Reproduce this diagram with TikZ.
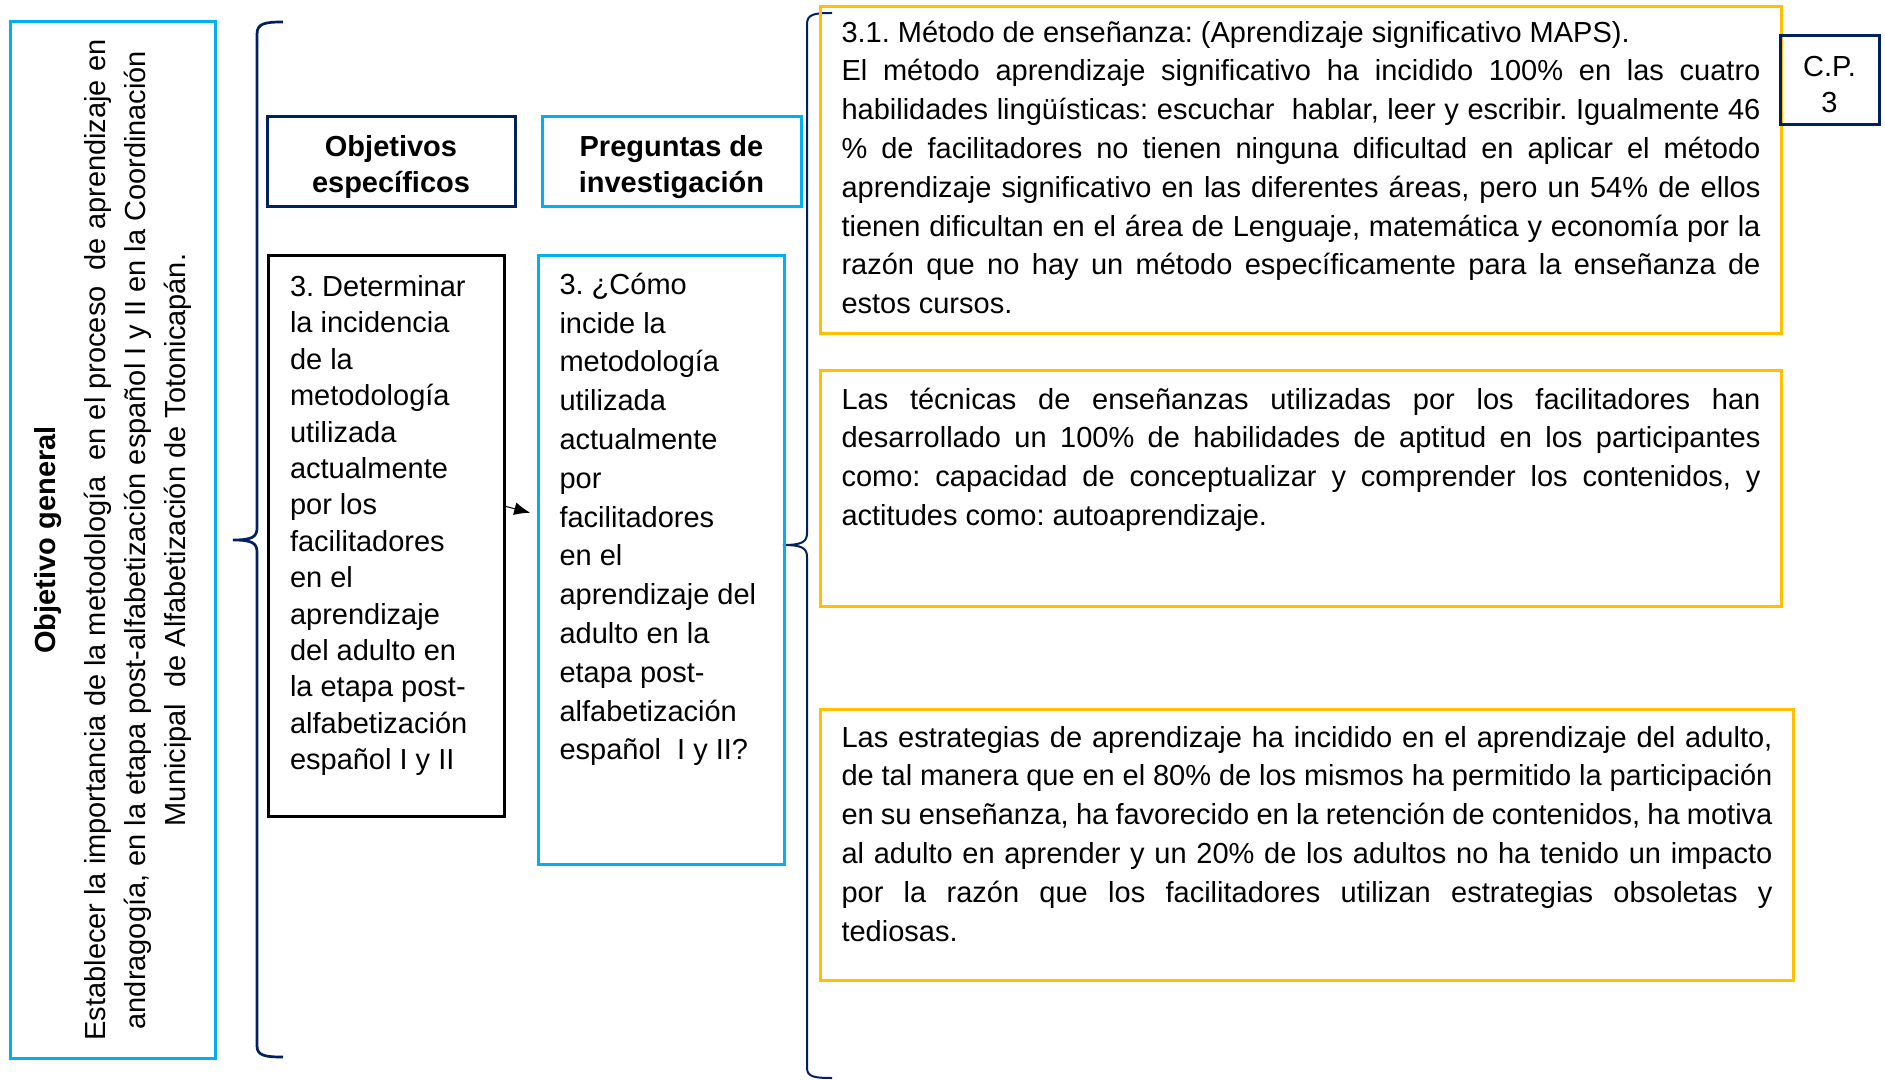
\documentclass[tikz,border=0pt]{standalone}
\usepackage{fontspec}
\setmainfont{Liberation Sans}
\usepackage{tikz}
\usetikzlibrary{arrows.meta}
\frenchspacing

\definecolor{celeste}{HTML}{00B0F0}
\definecolor{marino}{HTML}{002060}
\definecolor{amarillo}{HTML}{FFC000}

% text block held at the top of a box of fixed height
\newcommand{\arriba}[3]{\parbox[c][#2][t]{#1}{#3}}

\begin{document}
\begin{tikzpicture}[x=0.5pt, y=-0.5pt,
  caja/.style={line width=1.5pt, anchor=north west},
  amarilla/.style={caja, draw=amarillo, inner xsep=10.5pt, font=\fontsize{14.5}{19.4}\selectfont},
  titulo/.style={line width=1.5pt, align=center, font=\bfseries\fontsize{14.5}{18}\selectfont},
  llave/.style={draw=marino}]

  \useasboundingbox (0,0) rectangle (1885,1080);

  % --- Objetivo general (vertical) ---
  \node[draw=celeste, line width=1.5pt, rotate=90, minimum width=518pt, minimum height=102.5pt,
        align=center, font=\fontsize{14.5}{20}\selectfont] (general) at (112.5,540)
    {\textbf{Objetivo general}\\[5pt]
     Establecer la importancia de la metodología \ en el proceso \ de aprendizaje en\\
     andragogía, en la etapa post-alfabetización español I y II en la Coordinación\\
     Municipal \ de Alfabetización de Totonicapán.};

  % --- Llaves ---
  \draw[llave, line width=1.35pt] (283,22) .. controls (266,22) and (257,23) .. (257,34)
    -- (257,528) .. controls (257,537) and (252,540) .. (233,540)
    .. controls (252,540) and (257,543) .. (257,552)
    -- (257,1046) .. controls (257,1056) and (266,1057) .. (283,1057);
  \draw[llave, line width=1pt] (832,13) .. controls (815,13) and (807,14) .. (807,24)
    -- (807,533) .. controls (807,542) and (802,545) .. (783,545)
    .. controls (802,545) and (807,548) .. (807,557)
    -- (807,1068) .. controls (807,1077) and (815,1078) .. (832,1078);

  % --- Encabezados ---
  \node[titulo, draw=marino, minimum width=124pt, minimum height=45pt] (objesp) at (391,162)
    {\rule{0pt}{15.5pt}Objetivos\\específicos};
  \node[titulo, draw=celeste, minimum width=129.5pt, minimum height=45pt] (preg) at (671.5,162)
    {\rule{0pt}{15.5pt}Preguntas de\\investigación};

  % --- Objetivo especifico 3 ---
  \node[caja, draw=black, inner xsep=10.75pt, inner ysep=7.8pt,
        font=\fontsize{14.5}{18.2}\selectfont] (objetivo) at (267,254)
    {\arriba{96.5pt}{264.9pt}{\raggedright\strut 3. Determinar\\la incidencia\\de la\\metodología\\
     utilizada\\actualmente\\por los\\facilitadores\\en el\\aprendizaje\\del adulto en\\
     la etapa post-\\alfabetización\\español I y II}};

  % --- Pregunta 3 ---
  \node[caja, draw=celeste, inner xsep=10.5pt, inner ysep=5.8pt,
        font=\fontsize{14.5}{19.4}\selectfont] (pregunta) at (537,254)
    {\arriba{102pt}{292.9pt}{\raggedright\strut 3. ¿Cómo\\incide la\\metodología\\utilizada\\
     actualmente\\por\\facilitadores\\en el\\aprendizaje del\\adulto en la\\etapa post-\\
     alfabetización\\español \ I y II?}};

  \draw[-{Latex[length=8pt,width=6.5pt]}, line width=0.5pt, shorten >=3.5pt]
    ([yshift=14.75pt]objetivo.east) -- ([yshift=22.75pt]pregunta.west);

  % --- Resultados ---
  \node[amarilla, inner ysep=4.2pt] (res1) at (819,5)
    {\arriba{459.5pt}{155.1pt}{\strut 3.1. Método de enseñanza: (Aprendizaje significativo MAPS).\\
     El método aprendizaje significativo ha incidido 100\% en las cuatro\linebreak
     habilidades lingüísticas: escuchar \ hablar, leer y escribir. Igualmente 46\linebreak
     \% de facilitadores no tienen ninguna dificultad en aplicar el método\linebreak
     aprendizaje significativo en las diferentes áreas, pero un 54\% de ellos\linebreak
     tienen dificultan en el área de Lenguaje, matemática y economía por la\linebreak
     razón que no hay un método específicamente para la enseñanza de\linebreak
     estos cursos.}};
  \node[draw=marino, line width=1.5pt, minimum width=49.5pt, minimum height=44.5pt,
        align=center, font=\fontsize{14.5}{18}\selectfont] (cp) at (1829.5,80.5)
    {\rule{0pt}{14.5pt}C.P.\\3};

  \node[amarilla, inner ysep=5.7pt] (res2) at (819,369)
    {\arriba{459.5pt}{106.6pt}{\strut Las técnicas de enseñanzas utilizadas por los facilitadores han\linebreak
     desarrollado un 100\% de habilidades de aptitud en los participantes\linebreak
     como: capacidad de conceptualizar y comprender los contenidos, y\linebreak
     actitudes como: autoaprendizaje.}};

  \node[amarilla, inner ysep=5.2pt] (res3) at (819,708)
    {\arriba{465.5pt}{125.1pt}{\strut Las estrategias de aprendizaje ha incidido en el aprendizaje del adulto,\linebreak
     de tal manera que en el 80\% de los mismos ha permitido la participación\linebreak
     en su enseñanza, ha favorecido en la retención de contenidos, ha motiva\linebreak
     al adulto en aprender y un 20\% de los adultos no ha tenido un impacto\linebreak
     por la razón que los facilitadores utilizan estrategias obsoletas y\linebreak
     tediosas.}};
\end{tikzpicture}
\end{document}
